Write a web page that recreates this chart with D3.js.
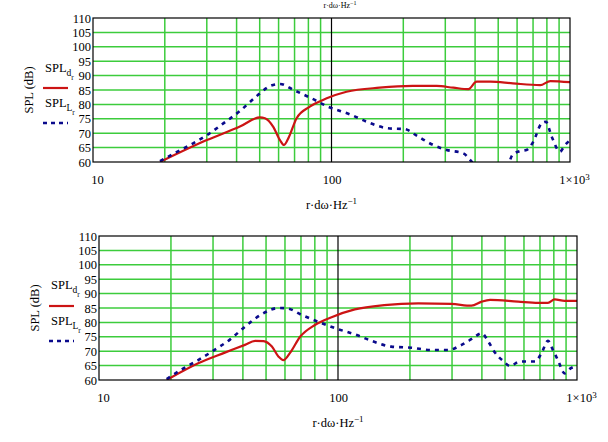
<!DOCTYPE html>
<html>
<head>
<meta charset="utf-8">
<script src="https://cdn.jsdelivr.net/npm/d3@7/dist/d3.min.js"></script>
<style>
  html, body { margin: 0; padding: 0; background: #fff; }
  svg { display: block; }
  svg text { font-family: "Liberation Serif", "Times New Roman", "DejaVu Serif", serif !important; fill: #000; }
</style>
</head>
<body>
<svg id="chart" width="608" height="442"></svg>
<script>
// ---------- data ----------
const yTicks = [60, 65, 70, 75, 80, 85, 90, 95, 100, 105, 110];
const xMajor = [10, 100, 1000];
const xMajorLabels = ["10", "100", "1×10|3"];
const xMinor = [20, 30, 40, 50, 60, 70, 80, 90, 200, 300, 400, 500, 600, 700, 800, 900];
const yAxisTitle = "SPL (dB)";
const xAxisTitle = ["r·dω·Hz", "−1"];

// top panel
const topDFreq = [19.1, 30, 41.3, 50.1, 52.6, 56.9, 60.8, 63.2, 65.9, 71.4, 81.1, 95.5, 115.6, 159, 219, 276, 324, 375, 406, 464, 576, 750, 827, 1000];
const topDVal  = [60, 67.6, 72.3, 75.5, 75.2, 72.3, 67.6, 65.9, 68.2, 75.2, 79.2, 82.1, 84.4, 85.8, 86.4, 86.4, 85.8, 85.3, 87.9, 87.9, 87.3, 86.7, 88.1, 87.7];
const topLFreq = [19.1, 22.4, 26.3, 30.5, 35.2, 41.3, 48.0, 55.7, 60.8, 70.2, 82.4, 96.8, 121.6, 140.3, 172.7, 203, 231, 267, 304, 357, 387, 440, 530, 573, 616, 657, 701, 760, 792, 838, 907, 953, 1000];
const topLVal  = [60.3, 63.4, 66.5, 69.7, 73.4, 77.7, 82.5, 86.5, 87.1, 84.8, 82.1, 79.2, 76.3, 74, 71.7, 71.4, 68.8, 65.9, 64.2, 63, 60.1, 54, 55, 62.4, 63.8, 64.2, 67, 73.4, 74, 68.8, 63.6, 65.9, 67.6];

// bottom panel
const botDFreq = [19.2, 26, 33.6, 40.8, 45, 48.8, 52.9, 56.4, 59.1, 63.1, 69.4, 80, 94, 117.6, 156, 216.7, 298, 362, 399, 433, 567, 687, 756, 806, 888, 1000];
const botDVal  = [60, 65.8, 69.5, 72.2, 73.6, 73.5, 71.6, 68.1, 66.9, 69.5, 75, 79.1, 81.8, 84.5, 86, 86.6, 86.4, 85.8, 87.2, 87.8, 87.2, 86.8, 86.8, 88, 87.5, 87.5];
const botLFreq = [19.2, 22.2, 26, 30.1, 35.4, 40.8, 47.9, 56.4, 61, 70.5, 82.7, 97.2, 119.8, 138, 167, 203, 246, 289, 329, 367, 399, 426, 451, 494, 524, 577, 667, 710, 756, 793, 832, 888, 943, 1000];
const botLVal  = [60.3, 63.7, 66.9, 70.2, 74.1, 78.5, 82.8, 85, 84.9, 82.6, 80.2, 78, 75.6, 73.6, 71.6, 71.2, 70.4, 70.4, 72.2, 74.5, 76.2, 73.3, 69.8, 66.4, 64.9, 66.4, 66.4, 69.3, 73.6, 70.4, 66.9, 62.3, 64.1, 64.9];

// ---------- layout ----------
const svg = d3.select("#chart");
const GREEN = "#3ccc3c", RED = "#cc1414", BLUE = "#0a0a8c";

const panels = [
  { id: "p1", left: 93, right: 570, top: 18, bottom: 162, dF: topDFreq, dV: topDVal, lF: topLFreq, lV: topLVal,
    legX: 43, legY1: 72, legY2: 107, legLine1: 88, legLine2: 123, yTitleX: 29, yTitleY: 90 },
  { id: "p2", left: 99, right: 577, top: 236, bottom: 380, dF: botDFreq, dV: botDVal, lF: botLFreq, lV: botLVal,
    legX: 49, legY1: 289, legY2: 325, legLine1: 306, legLine2: 341, yTitleX: 35, yTitleY: 308 }
];

// partially visible title at the very top
const cut = svg.append("text").attr("x", 340).attr("y", 8).attr("text-anchor", "middle").style("font-size", "8px");
cut.append("tspan").text(xAxisTitle[0]);
cut.append("tspan").attr("dy", -3).style("font-size", "6px").text(xAxisTitle[1]);

panels.forEach(p => {
  const x = d3.scaleLog().domain([10, 1000]).range([p.left, p.right]);
  const y = d3.scaleLinear().domain([60, 110]).range([p.bottom, p.top]);
  const g = svg.append("g");

  g.append("defs").append("clipPath").attr("id", "clip-" + p.id)
    .append("rect").attr("x", p.left).attr("y", p.top)
    .attr("width", p.right - p.left).attr("height", p.bottom - p.top);

  // grid
  g.selectAll(".hg").data(yTicks.slice(1, -1)).join("line")
    .attr("x1", p.left).attr("x2", p.right)
    .attr("y1", d => y(d)).attr("y2", d => y(d))
    .attr("stroke", GREEN).attr("stroke-width", 1.5);
  g.selectAll(".vg").data(xMinor).join("line")
    .attr("x1", d => x(d)).attr("x2", d => x(d))
    .attr("y1", p.top).attr("y2", p.bottom)
    .attr("stroke", GREEN).attr("stroke-width", 1.5);
  g.append("line").attr("x1", x(100)).attr("x2", x(100)).attr("y1", p.top).attr("y2", p.bottom)
    .attr("stroke", "#000").attr("stroke-width", 1.2);

  // curves
  const line = d3.line().x(d => x(d[0])).y(d => y(d[1])).curve(d3.curveMonotoneX);
  const cg = g.append("g").attr("clip-path", `url(#clip-${p.id})`);
  cg.append("path").datum(p.dF.map((f, i) => [f, p.dV[i]]))
    .attr("d", line).attr("fill", "none").attr("stroke", RED).attr("stroke-width", 2.2);
  cg.append("path").datum(p.lF.map((f, i) => [f, p.lV[i]]))
    .attr("d", line).attr("fill", "none").attr("stroke", BLUE).attr("stroke-width", 2.6)
    .attr("stroke-dasharray", "4,5");

  // frame
  g.append("rect").attr("x", p.left).attr("y", p.top)
    .attr("width", p.right - p.left).attr("height", p.bottom - p.top)
    .attr("fill", "none").attr("stroke", "#000").attr("stroke-width", 1.2);

  // y axis labels
  const ya = g.append("g").attr("transform", `translate(${p.left},0)`)
    .call(d3.axisLeft(y).tickValues(yTicks).tickSize(0).tickPadding(2).tickFormat(d3.format("d")));
  ya.attr("font-family", null);
  ya.select(".domain").remove();
  ya.selectAll("text").style("font-size", "12.5px");

  // x axis labels
  const xa = g.append("g").attr("transform", `translate(0,${p.bottom})`)
    .call(d3.axisBottom(x).tickValues(xMajor).tickSize(0).tickPadding(13).tickFormat((d, i) => xMajorLabels[i]));
  xa.attr("font-family", null);
  xa.select(".domain").remove();
  xa.selectAll("text").style("font-size", "12.5px")
    .each(function (d, i) {
      const t = d3.select(this);
      const parts = xMajorLabels[i].split("|");
      t.text(null);
      t.append("tspan").text(parts[0]);
      if (parts[1]) t.append("tspan").attr("dy", "-0.45em").style("font-size", "9px").text(parts[1]);
      if (i === 0) t.attr("dx", 4);
      if (i === 2) t.attr("dx", 4);
    });

  // x axis title
  const xt = g.append("text").attr("x", (p.left + p.right) / 2).attr("y", p.bottom + 47)
    .attr("text-anchor", "middle").style("font-size", "12.5px");
  xt.append("tspan").text(xAxisTitle[0]);
  xt.append("tspan").attr("dy", -5).style("font-size", "9px").text(xAxisTitle[1]);

  // y axis title
  g.append("text").attr("transform", `translate(${p.yTitleX + 4},${p.yTitleY}) rotate(-90)`)
    .attr("text-anchor", "middle").style("font-size", "12.5px").text(yAxisTitle);

  // legend
  const leg = [
    { sub: "d", ty: p.legY1, ly: p.legLine1, color: RED, dash: null, w: 2.2 },
    { sub: "L", ty: p.legY2, ly: p.legLine2, color: BLUE, dash: "4,4", w: 2.6 }
  ];
  leg.forEach(l => {
    const t = g.append("text").attr("x", p.legX + 2).attr("y", l.ty).style("font-size", "12.5px");
    t.append("tspan").text("SPL");
    t.append("tspan").attr("dy", 4).style("font-size", "9.5px").text(l.sub);
    t.append("tspan").attr("dy", 4).style("font-size", "7.5px").text("r");
    g.append("line").attr("x1", p.legX).attr("x2", p.legX + 25).attr("y1", l.ly).attr("y2", l.ly)
      .attr("stroke", l.color).attr("stroke-width", l.w).attr("stroke-dasharray", l.dash);
  });
});
</script>
</body>
</html>
